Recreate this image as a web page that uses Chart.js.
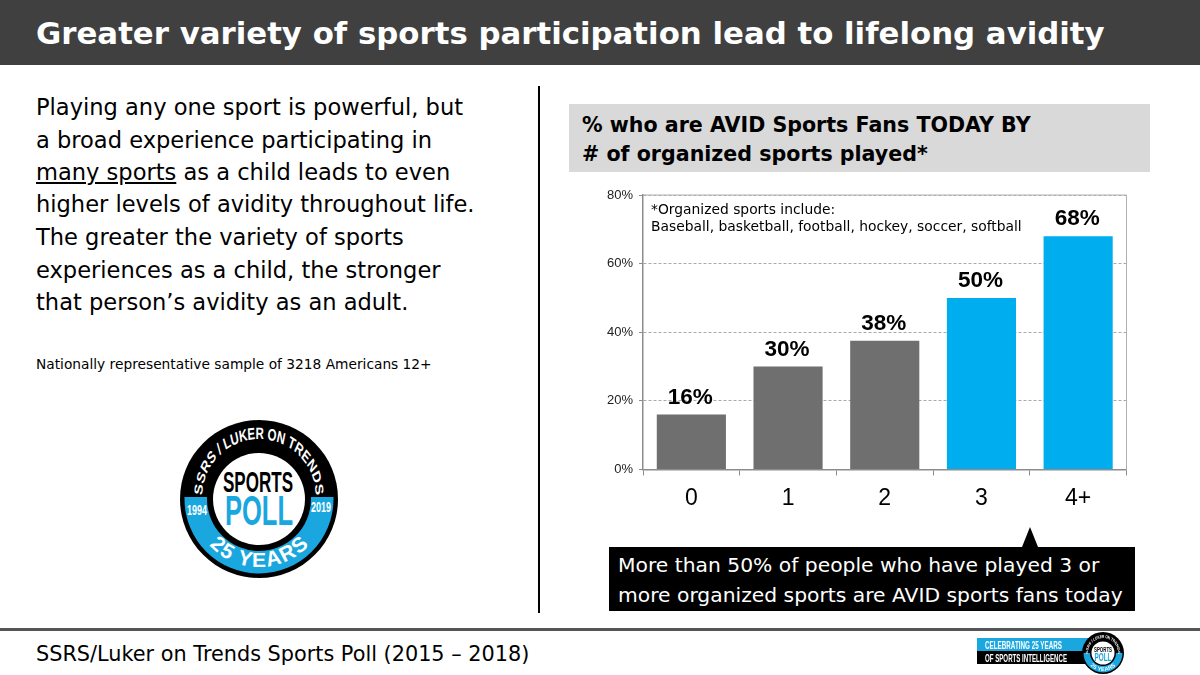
<!DOCTYPE html>
<html>
<head>
<meta charset="utf-8">
<script src="https://cdn.jsdelivr.net/npm/chart.js@4"></script>
<style>
  html, body { margin: 0; padding: 0; background: #fff; }
  body { position: relative; width: 1200px; height: 675px; overflow: hidden; font-family: "DejaVu Sans", sans-serif; color: #000; }
  .abs { position: absolute; white-space: pre; }
  #header { left: 0; top: 0; width: 1200px; height: 65px; background: #404040; }
  #title { left: 36px; top: 14px; color: #fff; font-weight: bold; font-size: 30.8px; line-height: 38px; }
  .body-line { left: 36px; font-size: 22.55px; line-height: 32px; }
  #sample { left: 36px; top: 355px; font-size: 13.75px; line-height: 18px; }
  #divider { left: 538px; top: 86px; width: 2px; height: 527px; background: #000; }
  #subhead { left: 569px; top: 104px; width: 581px; height: 68px; background: #d9d9d9; }
  .sub-line { left: 582px; font-weight: bold; font-size: 20.6px; line-height: 30px; }
  #chartBox { left: 560px; top: 180px; width: 580px; height: 350px; }
  .note { left: 651px; font-size: 13.85px; line-height: 17px; }
  #callout { left: 609px; top: 547px; width: 526px; height: 64px; background: #000; }
  #arrow { left: 1022px; top: 527px; width: 0; height: 0; border-left: 8px solid transparent; border-right: 8px solid transparent; border-bottom: 20px solid #000; }
  .call-line { left: 618px; color: #fff; font-size: 20.3px; line-height: 29px; }
  #rule { left: 0; top: 628px; width: 1200px; height: 3px; background: #555; }
  #source { left: 36px; top: 640px; font-size: 20.8px; line-height: 28px; }
  #stripTop { left: 977px; top: 638px; width: 120px; height: 13px; background: #1aa7e0; }
  #stripBottom { left: 977px; top: 651px; width: 120px; height: 13px; background: #000; }
  svg { position: absolute; overflow: visible; }
  svg text { font-family: "Liberation Sans", sans-serif; font-weight: bold; }
</style>
</head>
<body>
  <div class="abs" id="header"></div>
  <div class="abs" id="title">Greater variety of sports participation lead to lifelong avidity</div>

  <div class="abs body-line" style="top:91px">Playing any one sport is powerful, but</div>
  <div class="abs body-line" style="top:124px">a broad experience participating in</div>
  <div class="abs body-line" style="top:156px"><u>many sports</u> as a child leads to even</div>
  <div class="abs body-line" style="top:188px">higher levels of avidity throughout life.</div>
  <div class="abs body-line" style="top:221px">The greater the variety of sports</div>
  <div class="abs body-line" style="top:254px">experiences as a child, the stronger</div>
  <div class="abs body-line" style="top:286px">that person’s avidity as an adult.</div>
  <div class="abs" id="sample">Nationally representative sample of 3218 Americans 12+</div>

  <div class="abs" id="divider"></div>

  <svg style="left:180px;top:420px" width="158" height="158" viewBox="-79 -79 158 158">
    <defs>
      <path id="arcTop" d="M -81 -3 A 81 57 0 1 1 81 -3"></path>
      <path id="arcBottom" d="M -68 0 A 68 68 0 0 0 68 0"></path>
      <clipPath id="lowerHalf"><rect x="-79" y="-2" width="158" height="81"></rect></clipPath>
    </defs>
    <circle r="79" fill="#000"></circle>
    <circle r="74.5" fill="#1aa7e0" clip-path="url(#lowerHalf)"></circle>
    <circle r="52" fill="#000"></circle>
    <circle r="46" fill="#fff"></circle>
    <g transform="scale(0.7,1)">
      <text font-size="16.5" font-weight="normal" fill="#fff"><textPath href="#arcTop" startOffset="50%" text-anchor="middle">SSRS / LUKER ON TRENDS</textPath></text>
    </g>
    <text font-size="21" fill="#fff"><textPath href="#arcBottom" startOffset="50%" text-anchor="middle" textLength="112" lengthAdjust="spacing">25 YEARS</textPath></text>
    <text x="-62" y="16" font-size="15" font-weight="normal" fill="#fff" text-anchor="middle" textLength="20" lengthAdjust="spacingAndGlyphs">1994</text>
    <text x="62" y="13" font-size="15" font-weight="normal" fill="#fff" text-anchor="middle" textLength="20" lengthAdjust="spacingAndGlyphs">2019</text>
    <text x="-1" y="-7" font-size="30" fill="#000" text-anchor="middle" textLength="70" lengthAdjust="spacingAndGlyphs">SPORTS</text>
    <text x="0" y="26" font-size="42" font-weight="normal" fill="#1aa7e0" text-anchor="middle" textLength="68" lengthAdjust="spacingAndGlyphs">POLL</text>
  </svg>

  <div class="abs" id="subhead"></div>
  <div class="abs sub-line" style="top:110px">% who are AVID Sports Fans TODAY BY</div>
  <div class="abs sub-line" style="top:139px"># of organized sports played*</div>

  <div class="abs" id="chartBox"><canvas id="avidChart"></canvas></div>
  <div class="abs note" style="top:201px">*Organized sports include:</div>
  <div class="abs note" style="top:218px">Baseball, basketball, football, hockey, soccer, softball</div>

  <div class="abs" id="arrow"></div>
  <div class="abs" id="callout"></div>
  <div class="abs call-line" style="top:551px">More than 50% of people who have played 3 or</div>
  <div class="abs call-line" style="top:581px">more organized sports are AVID sports fans today</div>

  <div class="abs" id="rule"></div>
  <div class="abs" id="source">SSRS/Luker on Trends Sports Poll (2015 – 2018)</div>

  <div class="abs" id="stripTop"></div>
  <div class="abs" id="stripBottom"></div>
  <svg style="left:0;top:0" width="1200" height="675">
    <text x="985" y="648.5" font-size="11" fill="#fff" textLength="77" lengthAdjust="spacingAndGlyphs">CELEBRATING 25 YEARS</text>
    <text x="985" y="661.5" font-size="11" fill="#fff" textLength="82" lengthAdjust="spacingAndGlyphs">OF SPORTS INTELLIGENCE</text>
  </svg>
  <svg style="left:1082px;top:632px" width="42" height="42" viewBox="-21 -21 42 42">
    <defs>
      <clipPath id="lowerSmall"><rect x="-21" y="0" width="42" height="21"></rect></clipPath>
      <path id="arcTopSmall" d="M -21.4 0 A 21.4 15 0 1 1 21.4 0"></path>
      <path id="arcBottomSmall" d="M -18 0 A 18 18 0 0 0 18 0"></path>
    </defs>
    <circle r="21" fill="#000"></circle>
    <circle r="19.5" fill="#1aa7e0" clip-path="url(#lowerSmall)"></circle>
    <circle r="13" fill="#000"></circle>
    <circle r="11.5" fill="#fff"></circle>
    <g transform="scale(0.7,1)">
      <text font-size="4.5" fill="#fff"><textPath href="#arcTopSmall" startOffset="50%" text-anchor="middle">SSRS / LUKER ON TRENDS</textPath></text>
    </g>
    <text font-size="5.5" fill="#fff"><textPath href="#arcBottomSmall" startOffset="50%" text-anchor="middle" textLength="28">25 YEARS</textPath></text>
    <text y="-1.5" font-size="7.5" fill="#000" text-anchor="middle" textLength="18" lengthAdjust="spacingAndGlyphs">SPORTS</text>
    <text y="7.5" font-size="11" font-weight="normal" fill="#1aa7e0" text-anchor="middle" textLength="17" lengthAdjust="spacingAndGlyphs">POLL</text>
  </svg>

<script>
  const categories = ['0', '1', '2', '3', '4+'];
  const avidShare = [16, 30, 37.5, 50, 68];
  const valueLabels = ['16%', '30%', '38%', '50%', '68%'];
  const barColors = ['#6f6f6f', '#6f6f6f', '#6f6f6f', '#00aeef', '#00aeef'];
  const yTicks = [0, 20, 40, 60, 80];

  // Value labels above the bars, plus the grey frame on the top and right
  const barExtras = {
    id: 'barExtras',
    afterDatasetsDraw(chart) {
      const { ctx, chartArea } = chart;
      ctx.save();
      ctx.strokeStyle = '#b0b0b0';
      ctx.lineWidth = 1;
      ctx.beginPath();
      ctx.moveTo(chartArea.left, chartArea.top);
      ctx.lineTo(chartArea.right, chartArea.top);
      ctx.lineTo(chartArea.right, chartArea.bottom);
      ctx.stroke();

      ctx.fillStyle = '#000';
      ctx.font = 'bold 22.5px "Liberation Sans"';
      ctx.textAlign = 'center';
      ctx.textBaseline = 'alphabetic';
      chart.getDatasetMeta(0).data.forEach((bar, i) => {
        ctx.fillText(valueLabels[i], bar.x - 1, bar.y - 11);
      });
      ctx.restore();
    }
  };

  new Chart(document.getElementById('avidChart').getContext('2d'), {
    type: 'bar',
    data: {
      labels: categories,
      datasets: [{
        data: avidShare,
        backgroundColor: barColors,
        categoryPercentage: 1,
        barPercentage: 0.715
      }]
    },
    options: {
      responsive: true,
      maintainAspectRatio: false,
      animation: false,
      layout: { padding: { top: 15, right: 13.5, bottom: 0, left: 0 } },
      plugins: { legend: { display: false }, tooltip: { enabled: false } },
      scales: {
        x: {
          afterFit: scale => { scale.height = 60.5; },
          border: { color: '#8c8c8c', width: 1.5 },
          grid: { offset: true, drawOnChartArea: false, drawTicks: true, tickLength: 6, color: '#8c8c8c' },
          ticks: { color: '#000', font: { family: 'Liberation Sans', size: 23 }, padding: 9, maxRotation: 0 }
        },
        y: {
          min: 0,
          max: 80,
          afterFit: scale => { scale.width = 83; },
          afterBuildTicks: scale => { scale.ticks = yTicks.map(value => ({ value })); },
          border: { color: '#8c8c8c', width: 1.5, dash: [3, 2] },
          grid: { color: '#aaaaaa', lineWidth: 1, tickLength: 4, tickColor: '#8c8c8c', tickBorderDash: [] },
          ticks: {
            color: '#222',
            font: { family: 'Liberation Sans', size: 13 },
            padding: 6,
            callback: value => value + '%'
          }
        }
      }
    },
    plugins: [barExtras]
  });
</script>
</body>
</html>
